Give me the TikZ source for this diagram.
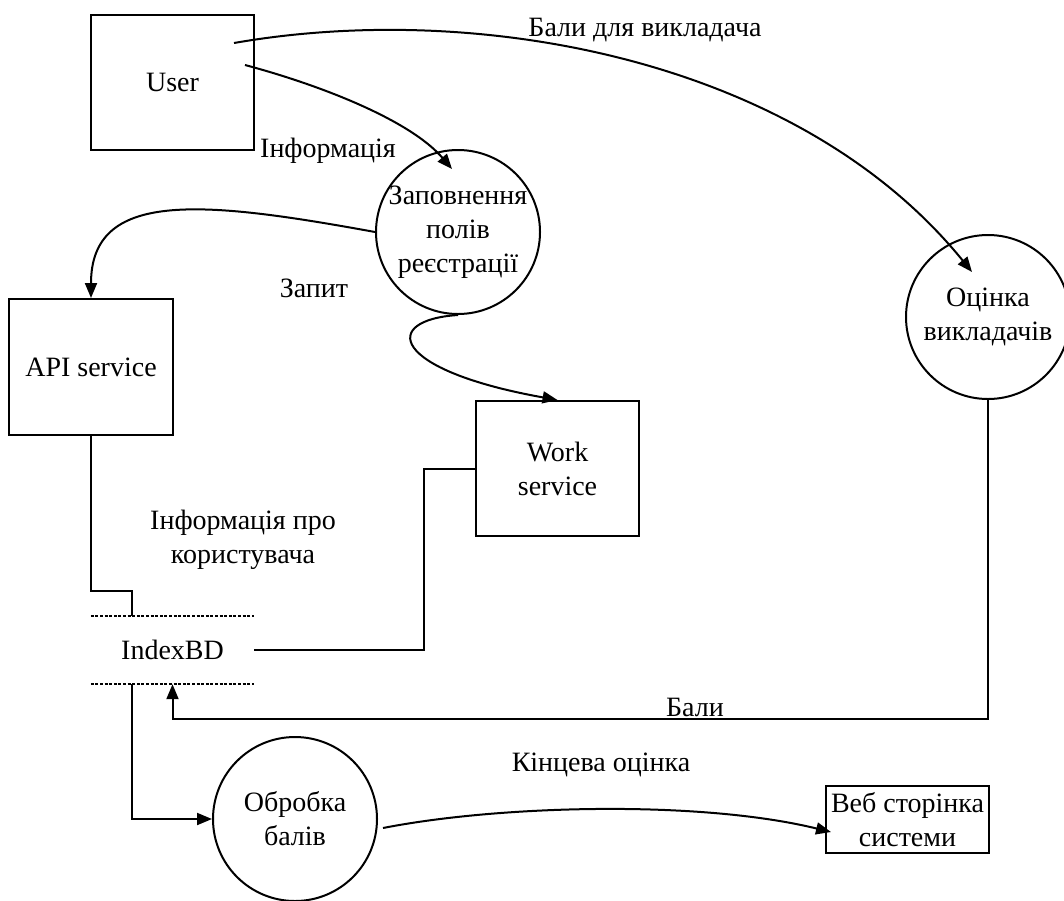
\documentclass[tikz,border=0pt]{standalone}
\usepackage{fontspec}
\setmainfont{Liberation Serif}
\usetikzlibrary{arrows.meta,calc}
\begin{document}
\begin{tikzpicture}[x=1pt,y=-1pt,
  every node/.style={font=\fontsize{28}{34}\selectfont},
  line/.style={line width=2pt},
  flow/.style={line, -{Triangle[length=15pt,width=12pt]}},
  entity/.style={draw, line width=2pt, rectangle, inner sep=0pt, align=center},
  process/.style={draw, line width=2pt, circle, minimum size=164pt, inner sep=0pt, align=center},
  store/.style={inner sep=0pt, minimum width=163pt, minimum height=68pt},
  storeline/.style={line width=1.5pt, dash pattern=on 3pt off 1.6pt},
  lbl/.style={anchor=base, inner sep=0pt}
]
\useasboundingbox (0,0) rectangle (1064,900);

% external entities, processes and the data store
\node[entity, minimum width=163pt, minimum height=135pt] (user) at (172.5,82.5) {User};
% the three-line text is wider than the circle's inscribed box, so shrink the margin
\node[process, inner sep=-2.2pt] (reg) at (458,232) {Заповнення\\полів\\реєстрації};
\node[entity, minimum width=164pt, minimum height=136pt] (api) at (91,367) {API service};
\node[entity, minimum width=163pt, minimum height=135pt] (work) at (557.5,468.5) {Work\\service};
\node[process] (rate) at (988,317) {Оцінка\\викладачів};
\node[store] (db) at (172.5,650) {IndexBD};
\node[process] (proc) at (295,819) {Обробка\\балів};
\node[entity, minimum width=163pt, minimum height=67pt] (web) at (907.5,819.5) {Веб сторінка\\системи};

% open-ended store: dotted lines above and below
\draw[storeline] (db.north west) -- (db.north east);
\draw[storeline] (db.south west) -- (db.south east);

% free ends of the curved flows
\coordinate (userA) at (245,65);
\coordinate (userB) at (234,43);
\coordinate (regIn) at (452,169);
\coordinate (rateIn) at (972,272);
\coordinate (procOut) at (383,828);
\coordinate (webIn) at (831,832);

% flows
\draw[flow] (userA) .. controls (320,85) and (410,120) .. (regIn);
\draw[flow] (userB) .. controls (480,0) and (800,60) .. (rateIn);
\draw[flow] (reg.west) .. controls (200,200) and (91,190) .. (api.north);
\draw[flow] (reg.south) .. controls (380,320) and (390,370) .. (work.north);
\draw[line] (api.south) |- ($(db.north west)+(41,-25)$) -- ($(db.north west)+(41,0)$);
\draw[line] (db.east) -| ($(work.west)+(-51,0)$) -- (work.west);
\draw[flow] (rate.south) -- ++(0,319) -| (db.south);
\draw[flow] ($(db.south west)+(41,0)$) |- (proc.west);
\draw[flow] (procOut) .. controls (500,805) and (700,800) .. (webIn);

% flow labels
\node[lbl] (lInfo) at (328,157) {Інформація};
\node[lbl] (lReq) at (314,297) {Запит};
\node[lbl] (lRate) at (645,36) {Бали для викладача};
\node[align=center, inner sep=0pt] (lUser) at (243,540) {Інформація про\\користувача};
\node[lbl] (lPts) at (695,716) {Бали};
\node[lbl] (lFinal) at (601,771) {Кінцева оцінка};
\end{tikzpicture}
\end{document}
